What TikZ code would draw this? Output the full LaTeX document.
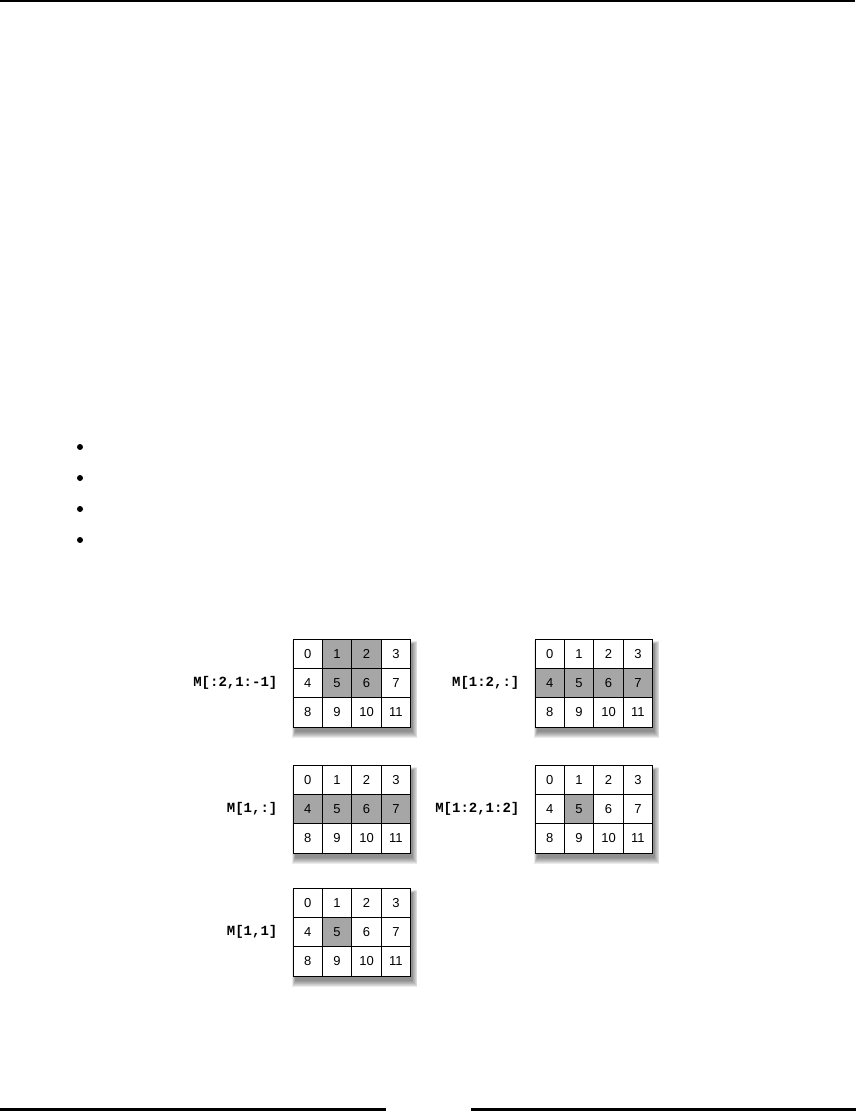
\documentclass[tikz,border=0pt]{standalone}
\usepackage{fontspec}
\setmainfont{Liberation Sans}
\setmonofont{Liberation Mono}
\usetikzlibrary{positioning}

\begin{document}
\begin{tikzpicture}[
    x=1pt, y=-1pt,
    every node/.style={inner sep=0pt},
    cell/.style={draw=black, line width=0.9pt, minimum size=29.4pt, font=\fontsize{13}{13}\selectfont},
    slicelabel/.style={font=\ttfamily\bfseries\fontsize{14}{14}\selectfont, anchor=east},
    rulethin/.style={line width=2pt},
    rulethick/.style={line width=3pt},
    bullet/.style={fill=black}
  ]
    \useasboundingbox (0,0) rectangle (857,1112);

    % Page rules
    \draw[rulethin] (0,1) -- (855,1);
    \draw[rulethick] (0,1109.5) -- (386,1109.5);
    \draw[rulethick] (471,1109.5) -- (856,1109.5);

    % Bullets of the empty list
    \foreach \by in {447,478,509,540} {
      \fill[bullet] (80,\by) circle (3);
    }

    % Sliced 3x4 grids: origin / name / label / shaded cells
    \foreach \gx/\gy/\g/\lbl/\hl in {293/639/a/{M[:2,1:-1]}/{1,2,5,6},
                                     535/639/b/{M[1:2,:]}/{4,5,6,7},
                                     293/765/c/{M[1,:]}/{4,5,6,7},
                                     535/765/d/{M[1:2,1:2]}/{5},
                                     293/888/e/{M[1,1]}/{5}} {
      % soft shadow under the grid
      \foreach \k in {0,...,6}
        \fill[black, opacity=0.08] (\gx+2-\k*0.5, \gy+5-\k*0.5) rectangle (\gx+119.6+\k*0.8, \gy+93.2+\k);
      % cells 0..11, row by row
      \foreach \i in {0,...,11} {
        \pgfmathtruncatemacro\col{mod(\i,4)}
        \pgfmathtruncatemacro\row{\i/4}
        \xdef\cellfill{white}
        \foreach \h in \hl {\ifnum\h=\i \xdef\cellfill{gray!70}\fi}
        \node[cell, fill=\cellfill] (\g-\i) at (\gx+14.7+\col*29.4, \gy+14.7+\row*29.4) {\i};
      }
      \node[slicelabel, left=15pt of \g-4] (\g-lbl) {\lbl};
    }

\end{tikzpicture}
\end{document}
